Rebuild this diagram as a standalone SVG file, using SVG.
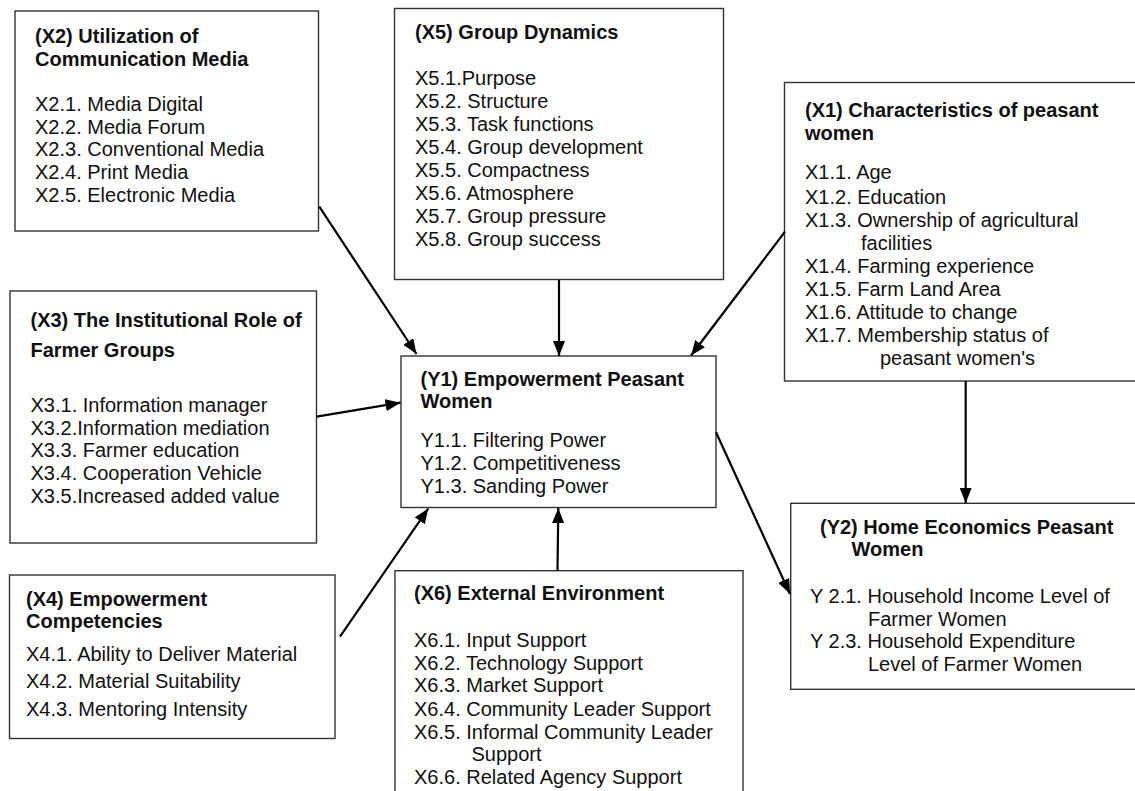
<svg xmlns="http://www.w3.org/2000/svg" width="1135" height="791" viewBox="0 0 1135 791">
<style>
.box{fill:#fff;stroke:#333;stroke-width:1.4}
.t{font-family:"Liberation Sans",Arial,sans-serif;font-size:20px;fill:#111}
.b{font-weight:bold}
.c{stroke:#000;stroke-width:2.2;fill:none;marker-end:url(#ah)}
</style>
<defs>
<marker id="ah" markerUnits="userSpaceOnUse" markerWidth="16" markerHeight="12" refX="15" refY="6" orient="auto">
<path d="M0,0 L15,6 L0,12 Z" fill="#000"/>
</marker>
</defs>
<rect width="1135" height="791" fill="#fff"/>
<g id="X2">
<rect class="box" x="15" y="11" width="303.5" height="220"/>
<text class="t b" x="35" y="43">(X2) Utilization of</text>
<text class="t b" x="35" y="66">Communication Media</text>
<text class="t" x="35" y="111">X2.1. Media Digital</text>
<text class="t" x="35" y="134">X2.2. Media Forum</text>
<text class="t" x="35" y="156">X2.3. Conventional Media</text>
<text class="t" x="35" y="179">X2.4. Print Media</text>
<text class="t" x="35" y="202">X2.5. Electronic Media</text>
</g>
<g id="X5">
<rect class="box" x="394.5" y="8.5" width="329" height="271"/>
<text class="t b" x="415" y="39">(X5) Group Dynamics</text>
<text class="t" x="415" y="84.5">X5.1.Purpose</text>
<text class="t" x="415" y="107.5">X5.2. Structure</text>
<text class="t" x="415" y="130.5">X5.3. Task functions</text>
<text class="t" x="415" y="153.5">X5.4. Group development</text>
<text class="t" x="415" y="176.5">X5.5. Compactness</text>
<text class="t" x="415" y="199.5">X5.6. Atmosphere</text>
<text class="t" x="415" y="222.5">X5.7. Group pressure</text>
<text class="t" x="415" y="245.5">X5.8. Group success</text>
</g>
<g id="X1">
<rect class="box" x="784.5" y="82.5" width="360" height="298.5"/>
<text class="t b" x="805" y="117">(X1) Characteristics of peasant</text>
<text class="t b" x="805" y="140">women</text>
<text class="t" x="805" y="179">X1.1. Age</text>
<text class="t" x="805" y="204">X1.2. Education</text>
<text class="t" x="805" y="227">X1.3. Ownership of agricultural</text>
<text class="t" x="861" y="250">facilities</text>
<text class="t" x="805" y="273">X1.4. Farming experience</text>
<text class="t" x="805" y="296">X1.5. Farm Land Area</text>
<text class="t" x="805" y="319">X1.6. Attitude to change</text>
<text class="t" x="805" y="342">X1.7. Membership status of</text>
<text class="t" x="880" y="365">peasant women's</text>
</g>
<g id="X3">
<rect class="box" x="10" y="291" width="306.5" height="252"/>
<text class="t b" x="30.5" y="326.5">(X3) The Institutional Role of</text>
<text class="t b" x="30.5" y="357">Farmer Groups</text>
<text class="t" x="30.5" y="412">X3.1. Information manager</text>
<text class="t" x="30.5" y="434.5">X3.2.Information mediation</text>
<text class="t" x="30.5" y="457">X3.3. Farmer education</text>
<text class="t" x="30.5" y="480">X3.4. Cooperation Vehicle</text>
<text class="t" x="30.5" y="503">X3.5.Increased added value</text>
</g>
<g id="Y1">
<rect class="box" x="401" y="356" width="315" height="151.5"/>
<text class="t b" x="420.5" y="385.5">(Y1) Empowerment Peasant</text>
<text class="t b" x="420.5" y="408">Women</text>
<text class="t" x="420.5" y="447">Y1.1. Filtering Power</text>
<text class="t" x="420.5" y="470">Y1.2. Competitiveness</text>
<text class="t" x="420.5" y="493">Y1.3. Sanding Power</text>
</g>
<g id="X4">
<rect class="box" x="9.5" y="575" width="325.5" height="163.5"/>
<text class="t b" x="26" y="605.5">(X4) Empowerment</text>
<text class="t b" x="26" y="628">Competencies</text>
<text class="t" x="26" y="660.5">X4.1. Ability to Deliver Material</text>
<text class="t" x="26" y="688">X4.2. Material Suitability</text>
<text class="t" x="26" y="715.5">X4.3. Mentoring Intensity</text>
</g>
<g id="X6">
<rect class="box" x="395" y="570.7" width="348" height="240"/>
<text class="t b" x="414" y="600">(X6) External Environment</text>
<text class="t" x="414" y="646.5">X6.1. Input Support</text>
<text class="t" x="414" y="670">X6.2. Technology Support</text>
<text class="t" x="414" y="692">X6.3. Market Support</text>
<text class="t" x="414" y="715.5">X6.4. Community Leader Support</text>
<text class="t" x="414" y="739">X6.5. Informal Community Leader</text>
<text class="t" x="471.5" y="761">Support</text>
<text class="t" x="414" y="784">X6.6. Related Agency Support</text>
</g>
<g id="Y2">
<rect class="box" x="790.7" y="503.3" width="360" height="186"/>
<text class="t b" x="820" y="534">(Y2) Home Economics Peasant</text>
<text class="t b" x="851.5" y="556">Women</text>
<text class="t" x="810" y="603">Y 2.1. Household Income Level of</text>
<text class="t" x="868" y="625.5">Farmer Women</text>
<text class="t" x="810" y="648">Y 2.3. Household Expenditure</text>
<text class="t" x="868" y="670.5">Level of Farmer Women</text>
</g>
<g id="connectors">
<line class="c" x1="319.3" y1="206.7" x2="416.5" y2="354"/>
<line class="c" x1="559" y1="280" x2="559" y2="356"/>
<line class="c" x1="785" y1="231.7" x2="691" y2="355.5"/>
<line class="c" x1="316.7" y1="416.7" x2="400.5" y2="402.7"/>
<line class="c" x1="340" y1="636.7" x2="428.3" y2="508.5"/>
<line class="c" x1="557.5" y1="570.7" x2="558.3" y2="508"/>
<line class="c" x1="716" y1="432.3" x2="790" y2="594"/>
<line class="c" x1="965.7" y1="381" x2="965.7" y2="503"/>
</g>
</svg>
